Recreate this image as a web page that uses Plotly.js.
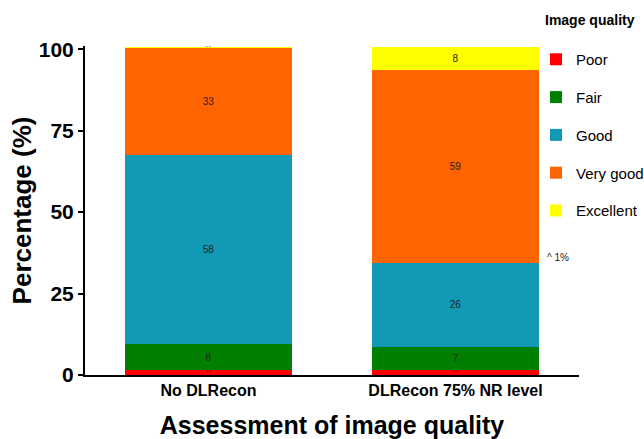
<!DOCTYPE html>
<html>
<head>
<meta charset="utf-8">
<script src="https://cdn.plot.ly/plotly-3.0.1.min.js"></script>
<style>html,body{margin:0;padding:0;background:#fff;}#chart{width:644px;height:439px;}</style>
</head>
<body>
<div id="chart"></div>
<script>
// Data
const groups = ['No DLRecon', 'DLRecon 75% NR level'];
const qualityLevels = ['Poor', 'Fair', 'Good', 'Very good', 'Excellent'];
const poor = [1.5, 1.5];
const fair = [8, 7];
const good = [58, 26];
const veryGood = [33, 59];
const excellent = [0.3, 7.3];
const poorLabels = ['^', '^'];
const fairLabels = ['8', '7'];
const goodLabels = ['58', '26'];
const veryGoodLabels = ['33', '59'];
const excellentLabels = ['^', '8'];
const yTicks = [0, 25, 50, 75, 100];
const colors = ['#FF0000', '#007F00', '#1299B5', '#FF6400', '#FFFF00'];

const series = [poor, fair, good, veryGood, excellent];
const labels = [poorLabels, fairLabels, goodLabels, veryGoodLabels, excellentLabels];

const FONT = 'Liberation Sans, Arial, sans-serif';

const traces = qualityLevels.map((name, i) => ({
  type: 'bar',
  name: name,
  x: groups,
  y: series[i],
  text: labels[i],
  texttemplate: '%{text}',
  textposition: 'inside',
  insidetextanchor: 'middle',
  textangle: 0,
  textfont: {family: FONT, size: 10, color: '#222'},
  marker: {color: colors[i], line: {width: 0}},
  width: 0.68,
  legendgroup: 'g' + i,
  hoverinfo: 'skip'
}));

const layout = {
  width: 644, height: 439,
  margin: {l: 85, r: 65, t: 46, b: 64, autoexpand: false},
  paper_bgcolor: '#fff', plot_bgcolor: '#fff',
  barmode: 'stack',
  bargap: 0,
  showlegend: true,
  uniformtext: {mode: 'show', minsize: 10},
  font: {family: FONT, color: '#000'},
  xaxis: {
    range: [-0.5, 1.5],
    automargin: false,
    showline: true, linecolor: '#000', linewidth: 1.5,
    ticks: '', showgrid: false, zeroline: false,
    tickfont: {size: 16, family: FONT, weight: 'bold'},
    title: {text: '<b>Assessment of image quality</b>', font: {size: 25}, standoff: 22}
  },
  yaxis: {
    range: [0, 101],
    automargin: false,
    tickvals: yTicks,
    showline: true, linecolor: '#000', linewidth: 2,
    ticks: 'outside', ticklen: 5, tickwidth: 2, tickcolor: '#000',
    showgrid: false, zeroline: false,
    tickfont: {size: 21, family: FONT, weight: 'bold'},
    title: {text: '<b>Percentage (%)</b>', font: {size: 26}, standoff: 0}
  },
  legend: {
    x: 0.913, xanchor: 'left', y: 1.009, yanchor: 'top',
    traceorder: 'grouped',
    tracegroupgap: 15.3,
    font: {size: 15, family: FONT},
    bgcolor: 'rgba(0,0,0,0)'
  },
  annotations: [{
    xref: 'paper', yref: 'paper',
    x: (543 - 85) / 494, y: (375.5 - 20) / 329.5,
    xanchor: 'left', yanchor: 'middle',
    text: '<b>Image quality</b>', showarrow: false,
    font: {size: 14, family: FONT, color: '#000'}
  }, {
    xref: 'paper', yref: 'paper',
    x: (545 - 85) / 494, y: (375.5 - 258) / 329.5,
    xanchor: 'left', yanchor: 'middle',
    text: '^ 1%', showarrow: false,
    font: {size: 10, family: FONT, color: '#222'}
  }]
};

Plotly.newPlot('chart', traces, layout, {displayModeBar: false, staticPlot: true});
</script>
</body>
</html>
